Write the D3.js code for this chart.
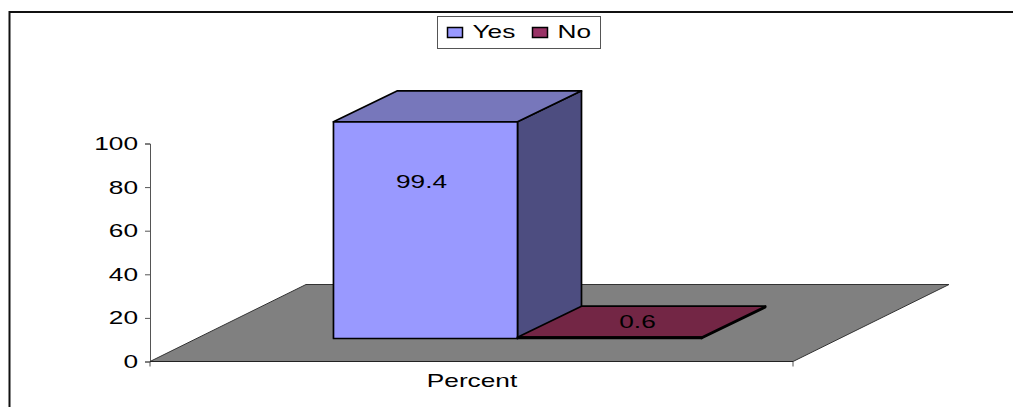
<!DOCTYPE html>
<html>
<head>
<meta charset="utf-8">
<script src="https://cdn.jsdelivr.net/npm/d3@7"></script>
<style>
  html, body { margin: 0; padding: 0; background: #fff; }
  svg { display: block; }
  text { font-family: "Liberation Sans", Arial, sans-serif; fill: #000; }
</style>
</head>
<body>
<svg id="chart"></svg>
<script>
var category = "Percent";
var seriesNames = ["Yes", "No"];
var seriesValues = [99.4, 0.6];
var yTicks = [0, 20, 40, 60, 80, 100];
var yDomain = [0, 100];

var width = 1013, height = 407;
var fontSize = 17.5, stretch = 1.5;

var frontColors = ["#9999ff", "#993366"];
var topColors = ["#7777bb", "#732645"];
var sideColors = ["#4d4d80", "#4d1a33"];

var svg = d3.select("#chart").attr("width", width).attr("height", height);

var x = d3.scaleBand().domain(seriesNames).range([150, 793])
  .paddingInner(0).paddingOuter(0.747);
var y = d3.scaleLinear().domain(yDomain).range([361.5, 143.5]);

// oblique depth of the floor, and of the bars standing on it
var floorDepth = { x: 156, y: -77 };
var barOffset = { x: 46, y: -23 };
var barDepth = { x: 64, y: -31 };

function poly(pts) { return pts.map(function (p) { return p.join(","); }).join(" "); }

// stretched text, the source picture is wider than it is tall
function label(sel, px, py, anchor) {
  return sel.attr("transform", "translate(" + px + "," + py + ") scale(" + stretch + ",1)")
    .attr("text-anchor", anchor || "middle")
    .style("font-size", fontSize + "px");
}

// outer frame runs off the right and bottom edge
svg.append("path")
  .attr("d", "M9.5," + height + "V12H" + width)
  .attr("fill", "none").attr("stroke", "#111").attr("stroke-width", 2);

// floor
var fx0 = x.range()[0], fx1 = x.range()[1], fy = y(0);
svg.append("polygon")
  .attr("points", poly([
    [fx0, fy], [fx1, fy],
    [fx1 + floorDepth.x, fy + floorDepth.y],
    [fx0 + floorDepth.x, fy + floorDepth.y]
  ]))
  .attr("fill", "#808080").attr("stroke", "#333").attr("stroke-width", 1);

// y axis
var yAxis = d3.axisLeft(y).tickValues(yTicks).tickSize(5).tickPadding(5).tickFormat(d3.format("d"));
var yG = svg.append("g").attr("transform", "translate(" + fx0 + ",0)").call(yAxis);
yG.select(".domain").attr("stroke", "#555");
yG.selectAll(".tick line").attr("stroke", "#555");
yG.selectAll(".tick text").each(function (d) {
  label(d3.select(this), -12, 6, "end").attr("x", null).attr("dy", null);
});

// x axis
var xAxis = d3.axisBottom(d3.scalePoint().domain([category]).range([(fx0 + fx1) / 2, (fx0 + fx1) / 2]))
  .tickSize(0).tickPadding(0);
var xG = svg.append("g").attr("transform", "translate(0," + fy + ")").call(xAxis);
xG.select(".domain").remove();
xG.selectAll(".tick text").each(function () {
  label(d3.select(this), 0, 25).attr("y", null).attr("dy", null);
});
svg.append("g").selectAll("line").data([fx0, fx1]).enter().append("line")
  .attr("x1", function (d) { return d; }).attr("x2", function (d) { return d; })
  .attr("y1", fy).attr("y2", fy + 5).attr("stroke", "#555");
svg.append("line").attr("x1", fx0).attr("x2", fx1).attr("y1", fy).attr("y2", fy).attr("stroke", "#222");

// bars, drawn left to right
var bars = svg.append("g").selectAll("g")
  .data(seriesNames.map(function (n, i) { return { name: n, value: seriesValues[i], i: i }; }))
  .enter().append("g")
  .attr("stroke", "#000").attr("stroke-width", 1.7).attr("stroke-linejoin", "round");

function corners(d) {
  var xl = x(d.name) + barOffset.x, xr = xl + x.bandwidth();
  return { xl: xl, xr: xr, yb: y(0) + barOffset.y, yt: y(d.value) + barOffset.y };
}
bars.append("polygon")
  .attr("points", function (d) {
    var c = corners(d);
    return poly([[c.xr, c.yb], [c.xr + barDepth.x, c.yb + barDepth.y], [c.xr + barDepth.x, c.yt + barDepth.y], [c.xr, c.yt]]);
  })
  .attr("fill", function (d) { return sideColors[d.i]; });
bars.append("polygon")
  .attr("points", function (d) {
    var c = corners(d);
    return poly([[c.xl, c.yt], [c.xr, c.yt], [c.xr + barDepth.x, c.yt + barDepth.y], [c.xl + barDepth.x, c.yt + barDepth.y]]);
  })
  .attr("fill", function (d) { return topColors[d.i]; });
bars.append("polygon")
  .attr("points", function (d) {
    var c = corners(d);
    return poly([[c.xl, c.yb], [c.xr, c.yb], [c.xr, c.yt], [c.xl, c.yt]]);
  })
  .attr("fill", function (d) { return frontColors[d.i]; });

// value labels
bars.append("text").attr("stroke", "none").text(function (d) { return d.value; })
  .each(function (d) {
    var c = corners(d);
    var tall = d.value > 50;
    label(d3.select(this), (c.xl + c.xr) / 2 + (tall ? -4 : 28), tall ? c.yt + 66 : c.yt - 9);
  });

// legend
var legend = svg.append("g");
legend.append("rect").attr("x", 437.5).attr("y", 16.5).attr("width", 163).attr("height", 32)
  .attr("fill", "#fff").attr("stroke", "#555");
var legendX = [447.5, 532.5];
seriesNames.forEach(function (n, i) {
  legend.append("rect").attr("x", legendX[i]).attr("y", 27.5).attr("width", 15).attr("height", 10)
    .attr("fill", frontColors[i]).attr("stroke", "#000").attr("stroke-width", 1.5);
  label(legend.append("text").text(n), legendX[i] + 25, 38, "start");
});
</script>
</body>
</html>
